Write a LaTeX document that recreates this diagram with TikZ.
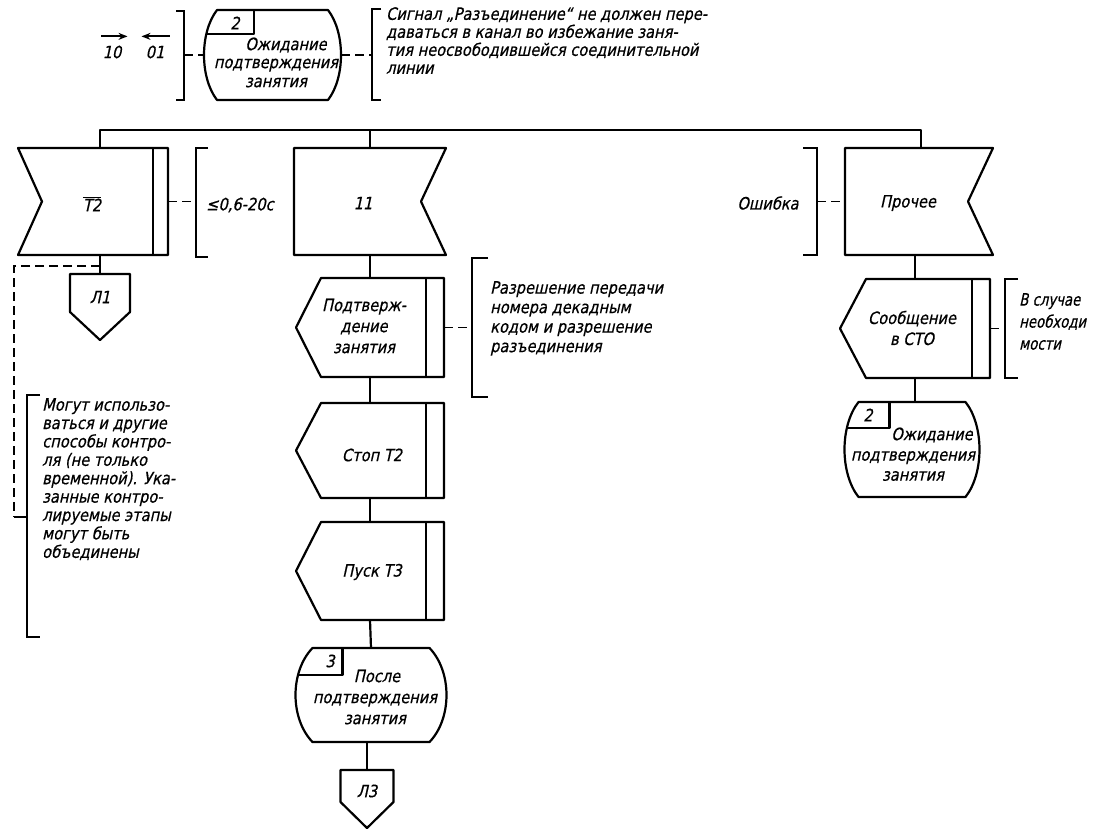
\documentclass[tikz,border=0pt]{standalone}
\usepackage{fontspec}
\setmainfont{DejaVu Sans}
\newfontfamily\gostfam{DejaVu Sans}[FakeSlant=0.22,FakeStretch=0.86,FakeBold=0.6]
\newfontfamily\gostnar{DejaVu Sans}[FakeSlant=0.22,FakeStretch=0.78,FakeBold=0.6]
\newcommand\gst{\gostfam\fontsize{17}{18}\selectfont}
\usetikzlibrary{calc,arrows.meta}
\newcommand\mkframe[5]{\node[draw=none,inner sep=0pt,outer sep=0pt,minimum width=#4pt,minimum height=#5pt] (#1) at (#2,#3) {};}
\newcommand\stateline[2]{%
\draw[ol] ($(#1.north west)+(#2,0)$) -- ($(#1.north east)+(-#2,0)$)
  .. controls ($(#1.north east)!0.25!(#1.south east)+(#2/3,0)$) and ($(#1.north east)!0.75!(#1.south east)+(#2/3,0)$) .. ($(#1.south east)+(-#2,0)$)
  -- ($(#1.south west)+(#2,0)$)
  .. controls ($(#1.north west)!0.75!(#1.south west)+(-#2/3,0)$) and ($(#1.north west)!0.25!(#1.south west)+(-#2/3,0)$) .. cycle;}
\begin{document}
\begin{tikzpicture}[x=1pt,y=-1pt,
  ol/.style={line width=2.2pt, line join=round},
  dsh/.style={line width=1.7pt, dash pattern=on 9pt off 5pt},
  brk/.style={line width=2.1pt},
  arr/.style={line width=2pt, -{Stealth[length=9pt,width=7pt]}},
  lbl/.style={font=\gst, inner sep=0pt},
  cmt/.style={font=\gst, inner sep=0pt, align=left, anchor=north west}]
\useasboundingbox (0,0) rectangle (1093,831);

% ---------- top state ----------
\node[lbl] (ar10) at (112,52) {10};
\node[lbl] (ar01) at (155,52) {01};
\draw[arr] ($(ar10.north west)+(-1,-9)$) -- ($(ar10.north east)+(6,-9)$);
\draw[arr] ($(ar01.north east)+(5,-9)$) -- ($(ar01.north west)+(-4,-9)$);
\mkframe{S0}{272.5}{55}{137}{90}
\stateline{S0}{13}
\draw[ol] ($(S0.north west)+(2,24)$) -- ($(S0.north west)+(50,24)$) -- ($(S0.north west)+(50,0)$);
\node[lbl] (n0) at (235,23) {2};
\node[lbl] (t0a) at (286,45) {Ожидание};
\node[lbl,align=center] (t0b) at (276,73) {подтверждения\\[1pt]занятия};
\coordinate (k0) at (184,55);
\draw[brk] (176,11) -- (184,11) -- (184,100) -- (176,100);
\draw[dsh] (k0) -- (S0.west);
\coordinate (k1) at (372,55);
\draw[brk] (381,9) -- (372,9) -- (372,100) -- (381,100);
\draw[dsh] (S0.east) -- (k1);
\node[cmt] (c0) at (386,7) {Сигнал „Разъединение“ не должен пере-\\даваться в канал во избежание заня-\\тия неосвободившейся соединительной\\линии};

% ---------- bus ----------
\mkframe{T2}{93}{201.5}{150}{107}
\mkframe{E11}{370}{201.5}{152}{107}
\mkframe{P}{919}{201.5}{148}{107}
\coordinate (b1) at (100,130);
\coordinate (b2) at (370,130);
\coordinate (b3) at (921,130);
\draw[ol] (b1 |- T2.north) -- (b1) -- (b3) -- (b3 |- P.north);
\draw[ol] (b2) -- (b2 |- E11.north);

% ---------- T2 ----------
\draw[ol] (T2.north west) -- (T2.north east) -- (T2.south east) -- (T2.south west) -- ($(T2.west)+(24,0)$) -- cycle;
\draw[ol] ($(T2.north east)+(-15,0)$) -- ($(T2.south east)+(-15,0)$);
\node[lbl] (tT2) at (92,204) {$\overline{\hbox{\gst Т2}}$};
\coordinate (k2) at (196,201.5);
\draw[brk] (208,148) -- (196,148) -- (196,257) -- (208,257);
\draw[dsh] (T2.east) -- (k2);
\node[lbl,anchor=west] (cT2) at (206,205) {≤0,6-20с};

\mkframe{L1}{100}{307}{60}{66}
\draw[ol] (L1.north west) -- (L1.north east) -- ($(L1.north east)+(0,38)$) -- (L1.south) -- ($(L1.north west)+(0,38)$) -- cycle;
\node[lbl] (tL1) at (100,297) {Л1};
\draw[ol] (b1 |- T2.south) -- (L1.north);

\coordinate (dj) at (100,266);
\coordinate (dc) at (14,517);
\draw[dsh] (dj) -- (14,266) -- (dc);
\draw[brk] (dc) -- (27,517);
\draw[brk] (40,395) -- (27,395) -- (27,637) -- (40,637);
\node[cmt,font=\gostfam\fontsize{17}{18.4}\selectfont] (c3) at (42,398) {Могут использо-\\ваться и другие\\способы контро-\\ля (не только\\временной). Ука-\\занные контро-\\лируемые этапы\\могут быть\\объединены};

% ---------- 11 column ----------
\draw[ol] (E11.north west) -- (E11.north east) -- ($(E11.east)+(-25,0)$) -- (E11.south east) -- (E11.south west) -- cycle;
\node[lbl] (t11) at (363,203) {11};

\mkframe{Conf}{370}{327.5}{148}{99}
\draw[ol] ($(Conf.north west)+(25,0)$) -- (Conf.north east) -- (Conf.south east) -- ($(Conf.south west)+(25,0)$) -- (Conf.west) -- cycle;
\draw[ol] ($(Conf.north east)+(-18,0)$) -- ($(Conf.south east)+(-18,0)$);
\node[lbl,align=center] (tConf) at (364,326) {Подтверж-\\[3pt]дение\\[3pt]занятия};
\draw[ol] (E11.south) -- (Conf.north);
\coordinate (k4) at (472,327.5);
\draw[brk] (488,258) -- (472,258) -- (472,397) -- (488,397);
\draw[dsh] (Conf.east) -- (k4);
\node[cmt,font=\gostfam\fontsize{17}{19.5}\selectfont] (c4) at (490,281) {Разрешение передачи\\номера декадным\\кодом и разрешение\\разъединения};

\mkframe{Stop}{370}{450.5}{148}{95}
\draw[ol] ($(Stop.north west)+(25,0)$) -- (Stop.north east) -- (Stop.south east) -- ($(Stop.south west)+(25,0)$) -- (Stop.west) -- cycle;
\draw[ol] ($(Stop.north east)+(-18,0)$) -- ($(Stop.south east)+(-18,0)$);
\node[lbl] (tStop) at (372,455) {Стоп Т2};
\draw[ol] (Conf.south) -- (Stop.north);

\mkframe{Pusk}{370}{571}{148}{98}
\draw[ol] ($(Pusk.north west)+(25,0)$) -- (Pusk.north east) -- (Pusk.south east) -- ($(Pusk.south west)+(25,0)$) -- (Pusk.west) -- cycle;
\draw[ol] ($(Pusk.north east)+(-18,0)$) -- ($(Pusk.south east)+(-18,0)$);
\node[lbl] (tPusk) at (372,572) {Пуск Т3};
\draw[ol] (Stop.south) -- (Pusk.north);

\mkframe{S3}{371}{695}{151}{94}
\stateline{S3}{17}
\draw[ol] ($(S3.north west)+(3,27)$) -- ($(S3.north west)+(47,27)$) -- ($(S3.north west)+(47,0)$);
\node[lbl] (n3) at (330,661) {3};
\node[lbl] (t3a) at (377,676) {После};
\node[lbl,align=center] (t3b) at (375,709) {подтверждения\\[3pt]занятия};
\draw[ol] (Pusk.south) -- (S3.north);

\mkframe{L3}{367}{799}{53}{58}
\draw[ol] (L3.north west) -- (L3.north east) -- ($(L3.north east)+(0,32)$) -- (L3.south) -- ($(L3.north west)+(0,32)$) -- cycle;
\node[lbl] (tL3) at (367,791) {Л3};
\draw[ol] (S3.south -| L3.north) -- (L3.north);

% ---------- right column ----------
\draw[ol] (P.north west) -- (P.north east) -- ($(P.east)+(-25,0)$) -- (P.south east) -- (P.south west) -- cycle;
\node[lbl] (tP) at (908,203) {Прочее};
\coordinate (k5) at (817,201.5);
\draw[brk] (803,148) -- (817,148) -- (817,255) -- (803,255);
\draw[dsh] (k5) -- (P.west);
\node[lbl] (cP) at (768,203) {Ошибка};

\mkframe{Msg}{915}{328.5}{150}{99}
\draw[ol] ($(Msg.north west)+(26,0)$) -- (Msg.north east) -- (Msg.south east) -- ($(Msg.south west)+(26,0)$) -- (Msg.west) -- cycle;
\draw[ol] ($(Msg.north east)+(-18,0)$) -- ($(Msg.south east)+(-18,0)$);
\node[lbl,align=center] (tMsg) at (912,328) {Сообщение\\[3pt]в СТО};
\draw[ol] (P.south -| Msg.north) -- (Msg.north);
\coordinate (k6) at (1005,328.5);
\draw[brk] (1018,279) -- (1005,279) -- (1005,378) -- (1018,378);
\draw[dsh] (Msg.east) -- (k6);
\node[cmt,font=\gostnar\fontsize{17}{22}\selectfont] (c6) at (1019,293) {В случае\\необходи\\мости};

\mkframe{S2}{912}{449.5}{135}{95}
\stateline{S2}{14}
\draw[ol] ($(S2.north west)+(2,26)$) -- ($(S2.north west)+(45,26)$) -- ($(S2.north west)+(45,0)$);
\node[lbl] (n2) at (868,415) {2};
\node[lbl] (t2a) at (932,435) {Ожидание};
\node[lbl,align=center] (t2b) at (913,466) {подтверждения\\[2pt]занятия};
\draw[ol] (Msg.south) -- (Msg.south |- S2.north);
\end{tikzpicture}
\end{document}
